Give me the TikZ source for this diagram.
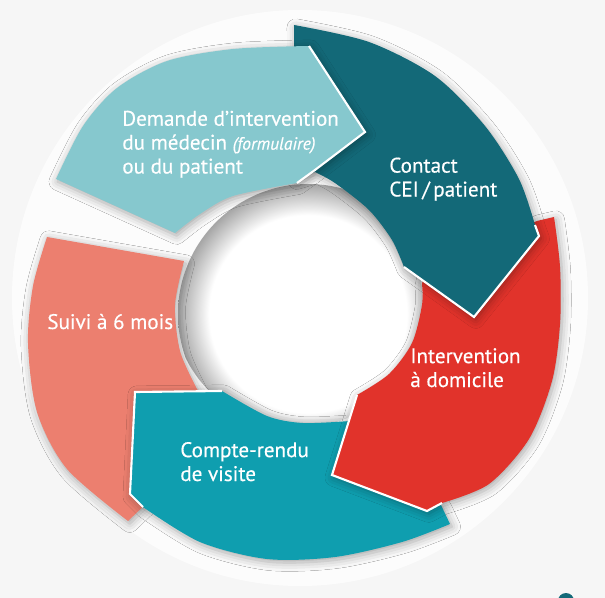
\documentclass[tikz,border=0pt]{standalone}
\usepackage{fontspec}
\setmainfont{PT Sans}[UprightFeatures={FakeBold=0.4}, ItalicFeatures={FakeBold=0.4}]
\usetikzlibrary{shadows.blur}
\definecolor{fond}{HTML}{F6F6F6}
\definecolor{demande}{HTML}{86C8CE}
\definecolor{contact}{HTML}{136978}
\definecolor{domicile}{HTML}{E1332B}
\definecolor{compterendu}{HTML}{0F9EAF}
\definecolor{suivi}{HTML}{EC7F6F}
\pgfdeclareradialshading{trou}{\pgfpoint{0bp}{0bp}}{color(0bp)=(white); color(19bp)=(white); color(25bp)=(black!35); color(50bp)=(black!35)}
\begin{document}
\begin{tikzpicture}[x=0.02cm, y=-0.02cm,
    seg/.style={blur shadow={shadow xshift=1pt, shadow yshift=-1.5pt,
        shadow blur radius=5pt, shadow opacity=35}},
    bord/.style={draw=white, line width=1.2pt, line join=miter},
    lbl/.style={text=white, align=left, inner sep=0pt, anchor=base west,
      font=\fontsize{12}{13.6}\selectfont}]
    \clip (0,0) rectangle (605,598);
    \fill[fond] (0,0) rectangle (605,598);
    % halo + trou
    \fill[white, opacity=0.7] (300,298) circle (288);
    \begin{scope}
    \clip (298,303) circle (125);
    \shade[shading=trou] (308,314) circle (130);
    \end{scope}

    % suivi
    \path[seg, fill=suivi] (47,237) -- (184,261)
      -- plot[smooth] coordinates {(184,261) (175,305) (180,351) (197,389)}
      -- (205,400) -- (150,500) -- (128,521)
      -- plot[smooth] coordinates {(128,521) (67,469) (37,412) (28,343) (33,286) (47,237)} -- cycle;
    % compte-rendu
    \path[seg, fill=compterendu] (222,391) -- (135,392) -- (130,494) -- (143,507)
      -- plot[smooth] coordinates {(143,507) (200,542) (267,559) (335,557) (402,542) (450,524)}
      -- (441,505) -- (400,460) -- (350,421)
      -- plot[smooth] coordinates {(350,421) (303,423) (267,416) (222,391)} -- cycle;
    \draw[bord] (222,391) -- (135,392) -- (130,494) -- (143,507);
    % domicile
    \path[seg, fill=domicile] (537,221) -- (554,217)
      -- plot[smooth] coordinates {(554,217) (560,267) (560,324) (552,381) (529,439) (489,484) (442,503)}
      -- (427,511) -- (332,475) -- (357,395)
      -- plot[smooth] coordinates {(357,395) (389,374) (412,343) (422,305) (422,284)}
      -- (425,270) -- cycle;
    \draw[bord] (442,503) -- (427,511) -- (332,475) -- (357,395);
    % contact
    \path[seg, fill=contact] (294,25)
      -- plot[smooth] coordinates {(294,25) (369,42) (435,76) (485,126) (519,179) (535,225)}
      -- (539,236) -- (474,317) -- (404,267)
      -- plot[smooth] coordinates {(404,267) (392,240) (369,210) (335,183) (315,172)}
      -- (295,178) -- cycle;
    \draw[bord] (535,225) -- (539,236) -- (474,317) -- (404,267);
    % demande
    \path[seg, fill=demande] (56,179)
      -- plot[smooth] coordinates {(56,179) (83,126) (117,88) (167,61) (233,49) (309,46)}
      -- (365,132) -- (315,170) -- (297,183)
      -- plot[smooth] coordinates {(297,183) (233,196) (200,214) (175,233)} -- cycle;
    \draw[bord] (309,46) -- (365,132) -- (315,170) -- (297,183);

    % textes
    \node[lbl] (tdemande) at (122,173.5) {Demande d’intervention\\du médecin {\fontsize{10}{11}\selectfont\itshape(formulaire)}\\ou du patient};
    \node[lbl] (tcontact) at (389,196.5) {Contact\\CEI\,/\,patient};
    \node[lbl] (tdomicile) at (410,387) {Intervention\\à domicile};
    \node[lbl] (tcompte) at (180,481) {Compte-rendu\\de visite};
    \node[lbl] (tsuivi) at (47,329) {Suivi à 6 mois};

    \fill[contact] (566,601) circle (8);
\end{tikzpicture}
\end{document}
